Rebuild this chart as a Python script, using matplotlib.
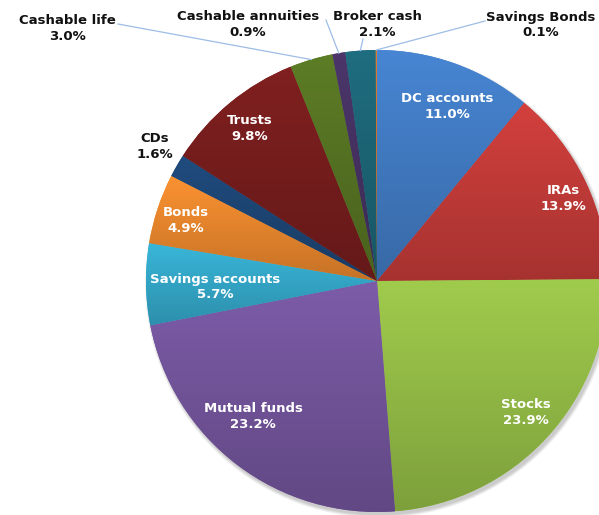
import numpy as np
import matplotlib.pyplot as plt
from matplotlib.colors import LinearSegmentedColormap, to_rgb

# household financial assets, share of total (%)
labels = ['DC accounts', 'IRAs', 'Stocks', 'Mutual funds', 'Savings accounts',
          'Bonds', 'CDs', 'Trusts', 'Cashable life', 'Cashable annuities',
          'Broker cash', 'Savings Bonds']
shares = [11.0, 13.9, 23.9, 23.2, 5.7, 4.9, 1.6, 9.8, 3.0, 0.9, 2.1, 0.1]

colors = ['#4683cf', '#cf3f3c', '#9dc84b', '#7a5aa5', '#38b3d6', '#f78f30',
          '#1f4a7c', '#7e1f1f', '#5b7a25', '#4a3568', '#1e6b7d', '#e0782a']

W, H = 599, 515
cx, cy, R = 377, 281, 231

fig = plt.figure(figsize=(W / 100, H / 100), dpi=100)
ax = fig.add_axes([0, 0, 1, 1])
ax.set_xlim(0, W)
ax.set_ylim(H, 0)
ax.set_aspect('equal')
ax.axis('off')

# soft shadow under the pie
for k in range(6):
    sh = plt.Circle((cx + 2, cy + 3), R + 3 - k * 0.6, color='#000000',
                    alpha=0.035, lw=0, zorder=0)
    ax.add_patch(sh)

# y axis runs downward, so counterclock=True draws clockwise on screen
wedges, _ = ax.pie(shares, colors=colors, startangle=-90, counterclock=True,
                   center=(cx, cy), radius=R, frame=True,
                   wedgeprops=dict(linewidth=0))
ax.set_xlim(0, W)
ax.set_ylim(H, 0)
ax.axis('off')

# vertical gradient on each slice, lighter at top
for w, c in zip(wedges, colors):
    base = np.array(to_rgb(c))
    top = np.clip(base * 1.02, 0, 1)
    bot = base * 0.8
    cmap = LinearSegmentedColormap.from_list('g', [top, bot])
    ext = w.get_path().get_extents()
    grad = np.linspace(0, 1, 256).reshape(-1, 1)
    im = ax.imshow(grad, cmap=cmap, aspect='auto', interpolation='bilinear',
                   extent=(ext.x0, ext.x1, ext.y1, ext.y0), zorder=2)
    im.set_clip_path(w)
ax.set_xlim(0, W)
ax.set_ylim(H, 0)

# label centres in pixel coordinates
inside_pos = {
    'DC accounts': (447, 106), 'IRAs': (563, 199), 'Stocks': (526, 412),
    'Mutual funds': (253, 416), 'Savings accounts': (215, 287),
    'Bonds': (186, 221), 'Trusts': (250, 129),
}
outside_pos = {
    'CDs': (155, 147), 'Cashable life': (67, 29),
    'Cashable annuities': (248, 24), 'Broker cash': (377, 24),
    'Savings Bonds': (541, 25),
}
leader_start = {
    'Cashable life': (118, 24), 'Cashable annuities': (326, 20),
    'Broker cash': (363, 39), 'Savings Bonds': (485, 21),
}

total = sum(shares)
cum = 0.0
for name, v in zip(labels, shares):
    mid = (cum + v / 2) / total * 2 * np.pi
    cum += v
    txt = f'{name}\n{v:.1f}%'
    if name in inside_pos:
        x, y = inside_pos[name]
        ax.text(x, y, txt, ha='center', va='center', color='white',
                fontsize=9.5, fontweight='bold', linespacing=1.3, zorder=5)
    else:
        x, y = outside_pos[name]
        ax.text(x, y, txt, ha='center', va='center', color='#111111',
                fontsize=9.5, fontweight='bold', linespacing=1.3, zorder=5)
        if name in leader_start:
            ex = cx + R * np.sin(mid)
            ey = cy - R * np.cos(mid)
            sx, sy = leader_start[name]
            ax.plot([sx, ex], [sy, ey], color='#9dbde6', lw=0.9, zorder=4)

fig.savefig('out.png', dpi=100)
